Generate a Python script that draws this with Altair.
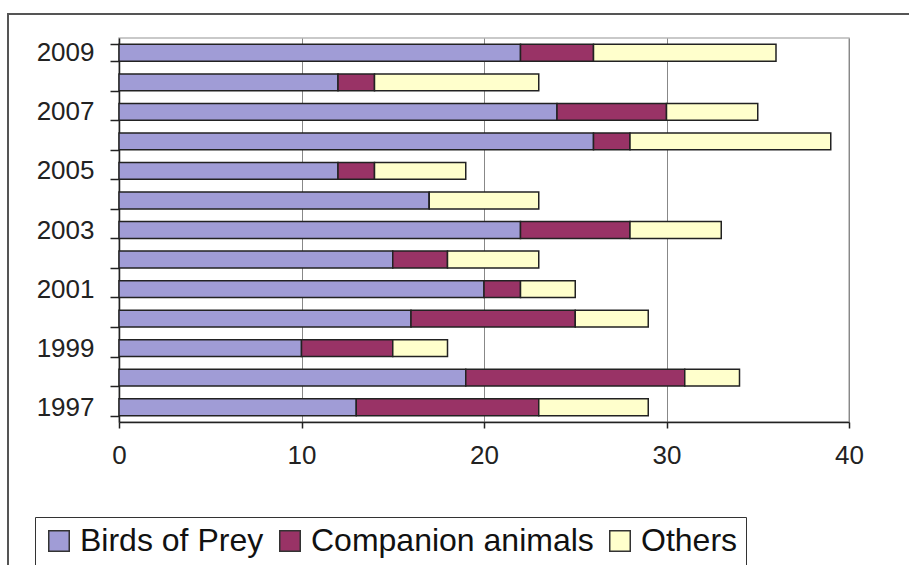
import altair as alt
import pandas as pd

years = [str(y) for y in range(1997, 2010)]
birds = [13, 19, 10, 16, 20, 15, 22, 17, 12, 26, 24, 12, 22]
companion = [10, 12, 5, 9, 2, 3, 6, 0, 2, 2, 6, 2, 4]
others = [6, 3, 3, 4, 3, 5, 5, 6, 5, 11, 5, 9, 10]
series = ["Birds of Prey", "Companion animals", "Others"]
colors = ["#a09cd6", "#993366", "#ffffcc"]

rows = []
for i, y in enumerate(years):
    for k, (name, vals) in enumerate(zip(series, [birds, companion, others])):
        rows.append({"year": y, "series": name, "value": vals[i], "order": k})
df = pd.DataFrame(rows)

FONT = "Liberation Sans"

bars = alt.Chart(df).mark_bar(stroke="#222222", strokeWidth=1.5).encode(
    y=alt.Y("year:O", sort=years[::-1], title=None,
            scale=alt.Scale(paddingInner=0.43, paddingOuter=0.215),
            axis=alt.Axis(labelExpr="toNumber(datum.value) % 2 == 1 ? datum.value : ''",
                          tickBand="extent", tickSize=9, labelPadding=16,
                          labelFontSize=26, labelColor="#222222", labelFont=FONT,
                          domainColor="#222222", domainWidth=1.5, tickColor="#222222",
                          tickWidth=1.5, grid=False)),
    x=alt.X("value:Q", stack="zero", title=None,
            scale=alt.Scale(domain=[0, 40], nice=False),
            axis=alt.Axis(values=[0, 10, 20, 30, 40], tickSize=6, labelPadding=14,
                          labelFlush=False,
                          labelFontSize=26, labelColor="#222222", labelFont=FONT,
                          domainColor="#222222", domainWidth=1.5, tickColor="#222222",
                          tickWidth=1.5, grid=True, gridColor="#888888", gridWidth=1)),
    color=alt.Color("series:N", sort=series,
                    scale=alt.Scale(domain=series, range=colors),
                    legend=alt.Legend(title=None, orient="none", legendX=-84, legendY=479,
                                      direction="horizontal", strokeColor="#333333",
                                      fillColor="white", padding=8,
                                      symbolType="square", symbolSize=420,
                                      symbolStrokeColor="#333333", symbolStrokeWidth=1.5,
                                      labelFontSize=32, labelFont=FONT, labelColor="#111111",
                                      columnPadding=10, labelOffset=5, labelLimit=400)),
    order=alt.Order("order:Q"),
)

frame = alt.Chart(pd.DataFrame({"a": [0]})).mark_rect(
    fill=None, stroke="#555555", strokeWidth=2, clip=False
).encode(
    x=alt.value(-111), x2=alt.value(800), y=alt.value(-24), y2=alt.value(540)
)

chart = alt.layer(frame, bars).properties(
    width=730, height=384,
    autosize=alt.AutoSizeParams(type="none"),
    padding={"left": 119, "top": 38, "right": 60, "bottom": 143},
    background="white",
).configure_view(stroke="#b8b8b8", strokeWidth=1.5)

chart.save("out.html", embed_options={"renderer": "svg", "actions": False})
